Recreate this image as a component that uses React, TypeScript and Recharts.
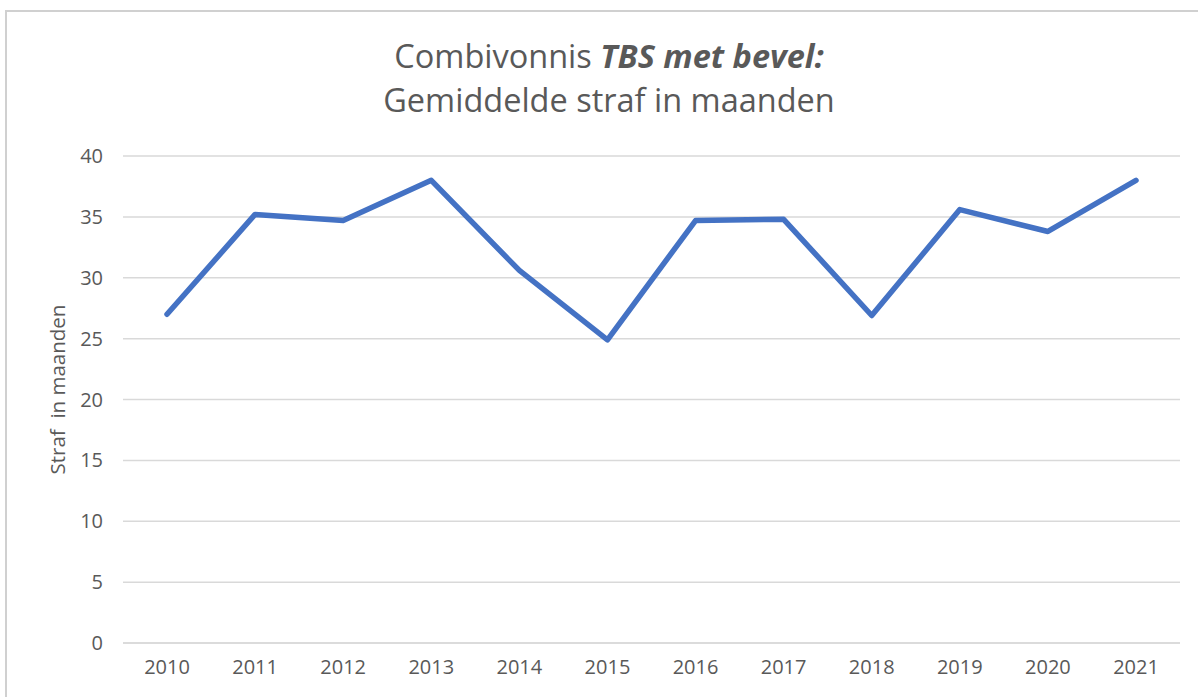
import { LineChart, Line, XAxis, YAxis, CartesianGrid, Label } from 'recharts';

const years = ['2010', '2011', '2012', '2013', '2014', '2015', '2016', '2017', '2018', '2019', '2020', '2021'];
const avgMonths = [27.0, 35.2, 34.7, 38.0, 30.6, 24.9, 34.7, 34.8, 26.9, 35.6, 33.8, 38.0];
const yTicks = [0, 5, 10, 15, 20, 25, 30, 35, 40];

const FONT = '"Open Sans", sans-serif';
const TEXT = '#595959';
const GRID = '#d9d9d9';
const FRAME = '#d0d0d0';

const data = years.map((year, i) => ({ year, value: avgMonths[i] }));

function AxisTitle(props: any) {
  const vb = props.viewBox ?? { x: 0, y: 0, width: 0, height: 0 };
  const cx = 57;
  const cy = vb.y + vb.height / 2 - 10;
  return (
    <text
      x={cx}
      y={cy}
      transform={`rotate(-90 ${cx} ${cy})`}
      textAnchor="middle"
      dominantBaseline="central"
      fill={TEXT}
      fontSize={20.5}
      fontFamily={FONT}
      style={{ whiteSpace: 'pre' }}
    >
      Straf  in maanden
    </text>
  );
}

export default function App() {
  return (
    <div style={{ position: 'fixed', left: 0, top: 0, width: 1198, height: 697, background: '#fff', overflow: 'hidden' }}>
      <div
        style={{
          position: 'absolute', left: 5, width: 1208, top: 34, textAlign: 'center',
          fontFamily: FONT, color: TEXT, fontSize: 32.5, lineHeight: '44px',
        }}
      >
        <div>Combivonnis <b><i>TBS met bevel:</i></b></div>
        <div>Gemiddelde straf in maanden</div>
      </div>
      <div style={{ position: 'absolute', left: 0, top: 0 }}>
        <LineChart width={1198} height={697} data={data} margin={{ top: 156, right: 18, bottom: 24, left: 0 }}>
          <CartesianGrid vertical={false} stroke={GRID} strokeWidth={1.5} />
          <XAxis
            dataKey="year"
            height={30}
            padding={{ left: 44, right: 44 }}
            axisLine={{ stroke: GRID, strokeWidth: 1.5 }}
            tickLine={false}
            tickSize={6}
            tickMargin={11}
            tick={{ fill: TEXT, fontSize: 20, fontFamily: FONT }}
            interval={0}
          />
          <YAxis
            width={123}
            domain={[0, 40]}
            ticks={yTicks}
            axisLine={false}
            tickLine={false}
            tickSize={6}
            tickMargin={14}
            tick={{ fill: TEXT, fontSize: 20, fontFamily: FONT }}
          >
            <Label content={<AxisTitle />} />
          </YAxis>
          <Line
            type="linear"
            dataKey="value"
            stroke="#4472C4"
            strokeWidth={5.5}
            strokeLinecap="round"
            strokeLinejoin="round"
            dot={false}
            activeDot={false}
            isAnimationActive={false}
          />
        </LineChart>
      </div>
      {/* chart frame: top and left edges, the rest runs off the picture */}
      <div style={{ position: 'absolute', left: 5, top: 10, width: 1193, height: 2, background: FRAME }} />
      <div style={{ position: 'absolute', left: 5, top: 10, width: 2, height: 687, background: FRAME }} />
    </div>
  );
}
